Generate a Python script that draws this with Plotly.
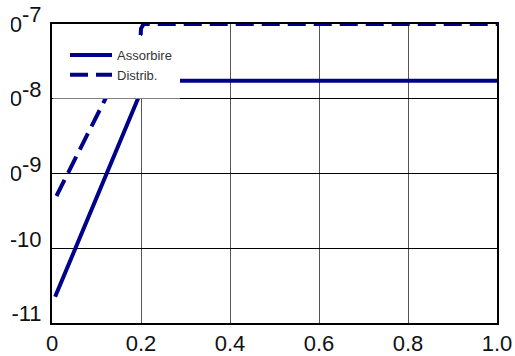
import plotly.graph_objects as go

# Assorbire: steep rise, then a flat plateau
assorbire_x = [0.007, 0.21, 1.0]
assorbire_y = [2.24e-11, 1.74e-8, 1.74e-8]

# Distrib.: rise up to the 1e-7 ceiling
distrib_x = [0.01, 0.12, 0.199, 0.2, 0.206, 1.0]
distrib_y = [5.0e-10, 1.0e-8, 6.3e-8, 8.7e-8, 1.0e-7, 1.0e-7]

x_ticks = [0, 0.2, 0.4, 0.6, 0.8, 1.0]
x_tick_labels = ["0", "0.2", "0.4", "0.6", "0.8", "1.0"]
y_ticks = [1e-11, 1e-10, 1e-9, 1e-8, 1e-7]
y_exponents = ["-11", "-10", "-9", "-8", "-7"]

NAVY = "#00008B"
W, H = 515, 356
L, R, T, B = 52, 18, 24, 33
PW, PH = W - L - R, H - T - B


def px_x(p):
    return (p - L) / PW


def px_y(p):
    return (H - B - p) / PH


fig = go.Figure()
fig.add_trace(go.Scatter(
    x=assorbire_x, y=assorbire_y, mode="lines", name="Assorbire",
    line=dict(color=NAVY, width=4), cliponaxis=False,
))
fig.add_trace(go.Scatter(
    x=distrib_x, y=distrib_y, mode="lines", name="Distrib.",
    line=dict(color=NAVY, width=4, dash="18px,8px"), cliponaxis=False,
))

y_tick_labels = [
    "10<sup><span style='font-size:22px'>%s</span></sup>" % e for e in y_exponents
]

fig.update_layout(
    width=W, height=H,
    margin=dict(l=L, r=R, t=T, b=B, pad=0, autoexpand=False),
    paper_bgcolor="white", plot_bgcolor="white",
    font=dict(family="Liberation Sans, Arial, sans-serif", size=22, color="#111"),
    showlegend=True,
    legend=dict(
        x=px_x(65), y=px_y(40), xanchor="left", yanchor="top",
        bgcolor="rgba(0,0,0,0)", borderwidth=0,
        font=dict(size=13, color="#333"), itemwidth=42,
        tracegroupgap=0,
    ),
    xaxis=dict(
        range=[0, 1], tickvals=x_ticks, ticktext=x_tick_labels,
        showgrid=True, gridcolor="#555", gridwidth=1, zeroline=False,
        showline=True, linecolor="black", linewidth=2, mirror=True,
        ticks="", ticklabelstandoff=0, automargin=False,
    ),
    yaxis=dict(
        type="log", range=[-11, -7], tickvals=y_ticks, ticktext=y_tick_labels,
        showgrid=True, gridcolor="black", gridwidth=1, zeroline=False,
        showline=True, linecolor="black", linewidth=2, mirror=True,
        ticks="", ticklabelstandoff=4, automargin=False,
    ),
    shapes=[
        # white legend panel sitting over the grid and the curves
        dict(type="rect", xref="paper", yref="paper", layer="above",
             x0=px_x(53), x1=px_x(180), y0=px_y(98.5), y1=px_y(36),
             fillcolor="white", line=dict(width=0)),
        # left page border strip
        dict(type="rect", xref="paper", yref="paper", layer="above",
             x0=px_x(-40), x1=px_x(11), y0=-0.2, y1=1.2,
             fillcolor="white", line=dict(width=0)),
    ],
)

fig.write_html("out.html")
